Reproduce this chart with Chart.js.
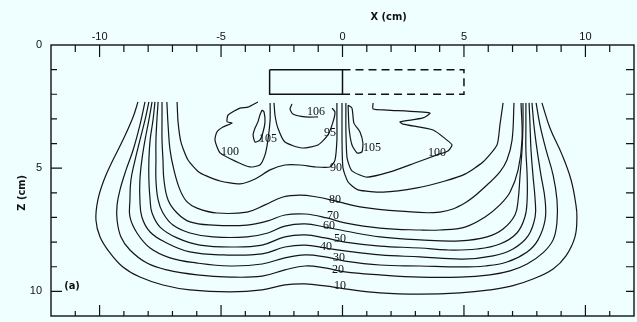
<!DOCTYPE html>
<html>
<head>
<meta charset="utf-8">
<script src="https://cdn.jsdelivr.net/npm/chart.js@4.4.1/dist/chart.umd.min.js"></script>
<style>
  html, body { margin: 0; padding: 0; background: #effefe; }
  #wrap { width: 637px; height: 322px; position: relative; }
</style>
</head>
<body>
<div id="wrap"><canvas id="isoChart"></canvas></div>
<script>
// isodose curves, points are [x (cm), z (cm)]
var iso10 = [[-8.42,2.31],[-8.62,2.92],[-9.04,3.86],[-9.45,4.67],[-9.82,5.48],[-10.07,6.29],[-10.15,7.10],[-9.98,7.79],[-9.57,8.44],[-9.04,9.01],[-8.34,9.42],[-7.39,9.74],[-6.28,9.94],[-4.63,10.02],[-3.31,9.94],[-2.37,9.74],[-1.54,9.70],[-0.72,9.78],[0.10,9.90],[1.54,10.06],[3.19,10.11],[4.84,10.06],[6.07,9.94],[6.98,9.78],[7.84,9.50],[8.67,9.09],[9.20,8.56],[9.57,7.79],[9.65,6.98],[9.61,6.49],[9.41,5.48],[9.04,4.46],[8.54,3.37],[8.21,2.35]];
var iso20 = [[-8.13,2.31],[-8.34,3.25],[-8.62,4.26],[-8.91,5.07],[-9.16,5.88],[-9.28,6.49],[-9.28,7.10],[-9.12,7.79],[-8.75,8.32],[-8.05,8.85],[-7.23,9.13],[-5.99,9.33],[-4.63,9.42],[-3.31,9.38],[-2.37,9.13],[-1.54,8.97],[-0.72,9.05],[0.10,9.21],[1.54,9.33],[3.19,9.42],[4.84,9.42],[6.07,9.33],[6.90,9.17],[7.60,8.89],[8.25,8.44],[8.67,7.91],[8.83,7.18],[8.83,6.29],[8.67,5.28],[8.38,4.26],[8.13,3.25],[7.97,2.35]];
var iso30 = [[-7.97,2.31],[-8.13,3.04],[-8.34,3.86],[-8.54,4.67],[-8.71,5.48],[-8.75,6.29],[-8.75,6.98],[-8.46,7.63],[-7.92,8.24],[-7.10,8.64],[-5.99,8.85],[-4.63,8.97],[-3.31,8.89],[-2.37,8.64],[-1.54,8.52],[-0.72,8.60],[0.10,8.77],[1.54,8.93],[3.19,8.97],[4.84,9.01],[5.87,8.97],[6.77,8.81],[7.60,8.40],[8.05,7.91],[8.34,7.10],[8.34,6.29],[8.17,5.28],[8.01,4.26],[7.88,3.25],[7.80,2.35]];
var iso40 = [[-7.84,2.31],[-7.97,3.04],[-8.13,3.86],[-8.26,4.67],[-8.34,5.48],[-8.34,6.29],[-8.26,6.98],[-7.92,7.59],[-7.23,8.04],[-6.28,8.40],[-4.92,8.52],[-3.31,8.48],[-2.37,8.20],[-1.54,8.12],[-0.72,8.24],[0.10,8.36],[1.54,8.52],[3.19,8.60],[4.96,8.69],[6.20,8.56],[7.02,8.28],[7.64,7.75],[7.93,6.98],[7.93,6.29],[7.84,5.28],[7.76,4.26],[7.72,3.25],[7.68,2.35]];
var iso50 = [[-7.72,2.31],[-7.80,3.04],[-7.92,3.86],[-7.97,4.67],[-7.97,5.48],[-7.92,6.29],[-7.84,6.82],[-7.51,7.39],[-6.81,7.83],[-5.87,8.12],[-4.51,8.20],[-3.31,8.12],[-2.37,7.79],[-1.54,7.71],[-0.72,7.83],[0.10,8.00],[1.54,8.16],[3.19,8.24],[4.30,8.32],[5.54,8.28],[6.48,8.08],[7.18,7.63],[7.51,6.98],[7.60,6.29],[7.60,5.28],[7.55,4.26],[7.55,3.25],[7.55,2.35]];
var iso60 = [[-7.59,2.31],[-7.64,3.04],[-7.68,3.86],[-7.68,4.67],[-7.68,5.48],[-7.59,6.29],[-7.39,6.82],[-6.98,7.31],[-6.28,7.63],[-5.33,7.79],[-3.93,7.79],[-3.07,7.63],[-2.37,7.35],[-1.54,7.26],[-0.72,7.39],[0.10,7.55],[1.54,7.79],[3.19,7.91],[4.84,7.95],[5.95,7.79],[6.61,7.47],[7.10,6.90],[7.23,6.29],[7.31,5.28],[7.39,4.26],[7.43,3.25],[7.43,2.35]];
var iso70 = [[-7.43,2.31],[-7.43,3.04],[-7.43,3.86],[-7.39,4.67],[-7.35,5.48],[-7.18,6.29],[-6.81,6.82],[-6.28,7.18],[-5.33,7.31],[-3.93,7.31],[-3.07,7.14],[-2.37,6.90],[-1.54,6.86],[-0.64,7.02],[0.10,7.22],[1.54,7.43],[3.19,7.51],[4.01,7.51],[5.04,7.39],[5.87,6.98],[6.48,6.49],[6.90,5.97],[7.23,5.07],[7.39,3.86],[7.35,2.35]];
var iso80 = [[-7.23,2.31],[-7.18,3.25],[-7.10,4.26],[-6.94,5.07],[-6.69,5.88],[-6.40,6.37],[-5.99,6.62],[-5.17,6.82],[-3.93,6.78],[-3.19,6.49],[-2.45,6.17],[-1.75,6.09],[-1.05,6.17],[-0.31,6.33],[0.72,6.57],[2.37,6.74],[4.01,6.78],[5.04,6.41],[5.95,5.68],[6.48,5.15],[6.77,4.67],[6.98,3.86],[7.06,2.35]];
var iso90L = [[-6.81,2.31],[-6.77,3.12],[-6.65,3.94],[-6.36,4.67],[-5.87,5.19],[-5.04,5.52],[-4.22,5.64],[-3.60,5.44],[-2.98,5.07],[-2.37,4.87],[-1.75,4.87],[-1.13,4.95],[-0.51,4.95],[-0.31,4.67],[-0.23,3.86],[-0.23,3.04],[-0.23,2.35]];
var iso90R = [[-0.02,2.35],[-0.02,3.86],[0.02,4.99],[0.23,5.56],[0.64,5.88],[1.67,5.97],[3.07,5.80],[4.22,5.52],[5.04,5.24],[5.78,4.75],[6.36,4.06],[6.48,3.25],[6.61,2.35]];
var iso95 = [[-2.82,2.35],[-2.78,2.84],[-2.66,3.37],[-2.37,3.94],[-1.67,4.18],[-1.01,4.06],[-0.60,3.65],[-0.39,3.12],[-0.31,2.72],[-0.43,2.56]];
var iso100L = [[-3.48,2.31],[-3.89,2.52],[-4.22,2.56],[-4.71,2.84],[-4.75,3.12],[-4.55,3.17],[-4.92,3.33],[-5.17,3.53],[-5.25,3.86],[-5.04,4.38],[-4.34,4.75],[-3.81,4.95],[-3.40,4.87],[-3.19,4.46],[-3.07,3.86],[-2.98,3.04],[-2.98,2.35]];
var iso100R = [[1.26,2.35],[1.26,2.60],[1.83,2.64],[3.60,2.76],[3.31,2.96],[2.37,3.12],[2.49,3.21],[3.73,3.45],[4.30,3.86],[4.51,4.06],[4.34,4.30],[3.89,4.46],[2.98,4.79],[1.96,5.15],[1.01,5.36],[0.39,5.11],[0.19,4.59],[0.14,3.45],[0.14,2.35]];
var iso105L = [[-3.31,2.64],[-3.40,2.84],[-3.48,3.12],[-3.60,3.37],[-3.68,3.65],[-3.60,3.94],[-3.40,3.86],[-3.27,3.53],[-3.19,3.12],[-3.23,2.72],[-3.31,2.64]];
var iso105R = [[0.23,2.44],[0.27,3.37],[0.39,4.06],[0.60,4.38],[0.80,4.34],[0.84,3.98],[0.72,3.53],[0.47,3.17],[0.39,2.56],[0.23,2.44]];
var iso106 = [[-2.08,2.39],[-2.16,2.60],[-2.04,2.80],[-1.54,2.92],[-1.01,2.92]];

var curves = [iso10, iso20, iso30, iso40, iso50, iso60, iso70, iso80, iso90L, iso90R, iso95, iso100L, iso100R, iso105L, iso105R, iso106];
var curveLevels = [10, 20, 30, 40, 50, 60, 70, 80, 90, 90, 95, 100, 100, 105, 105, 106];
// where each level number is written (null = unlabelled piece)
var labelSpots = [[-0.10,9.78],[-0.19,9.13],[-0.14,8.64],[-0.68,8.20],[-0.10,7.87],[-0.56,7.35],[-0.39,6.94],[-0.31,6.29],[-0.27,4.99],null,[-0.51,3.57],[-4.63,4.34],[3.89,4.38],[-3.07,3.82],[1.21,4.18],[-1.09,2.72]];

// block outline and the open (dashed) region beside it
var blockSolid = [[-3,1],[0,1],[0,2],[-3,2],[-3,1]];
var blockDashed = [[0,1],[5,1],[5,2],[0,2]];

var xTickLabels = [-10, -5, 0, 5, 10];
var zTickLabels = [0, 5, 10];

function toXY(pts) {
    return pts.map(function (p) { return { x: p[0], y: p[1] }; });
}

var datasets = curves.map(function (pts, i) {
    return {
        label: curveLevels[i] + '%',
        data: toXY(pts),
        showLine: true,
        borderColor: '#151515',
        borderWidth: 1.2,
        pointRadius: 0,
        tension: curveLevels[i] <= 80 ? 0.4 : 0.2
    };
});
datasets.push({
    label: 'block', data: toXY(blockSolid), showLine: true,
    borderColor: '#111', borderWidth: 1.5, pointRadius: 0, tension: 0
});
datasets.push({
    label: 'open', data: toXY(blockDashed), showLine: true,
    borderColor: '#111', borderWidth: 1.5, borderDash: [8, 5], pointRadius: 0, tension: 0
});

// frame, inward ticks and all the text
var framePlugin = {
    id: 'frame',
    beforeDraw: function (chart) {
        var c = chart.ctx;
        c.save();
        c.fillStyle = '#effefe';
        c.fillRect(0, 0, chart.width, chart.height);
        c.restore();
    },
    afterDraw: function (chart) {
        var c = chart.ctx, a = chart.chartArea;
        var xs = chart.scales.x, ys = chart.scales.y;
        c.save();
        c.strokeStyle = '#111';
        c.lineWidth = 1.4;
        c.strokeRect(a.left, a.top, a.right - a.left, a.bottom - a.top);

        c.lineWidth = 1.2;
        c.beginPath();
        for (var v = -11; v <= 11; v++) {
            var px = xs.getPixelForValue(v);
            var major = v % 5 === 0;
            c.moveTo(px, a.top); c.lineTo(px, a.top + (major ? 12 : 7));
            c.moveTo(px, a.bottom); c.lineTo(px, a.bottom - (major ? 11 : 5));
        }
        for (var w = 1; w <= 10; w++) {
            var py = ys.getPixelForValue(w);
            var big = w % 5 === 0;
            c.moveTo(a.left, py); c.lineTo(a.left + (big ? 11 : 6), py);
            c.moveTo(a.right, py); c.lineTo(a.right - 8, py);
        }
        c.stroke();

        c.fillStyle = '#111';
        c.font = "11px 'Liberation Sans', Arial, sans-serif";
        c.textAlign = 'center';
        c.textBaseline = 'middle';
        xTickLabels.forEach(function (t) {
            c.fillText(String(t), xs.getPixelForValue(t), a.top - 8);
        });
        c.textAlign = 'right';
        zTickLabels.forEach(function (t) {
            c.fillText(String(t), a.left - 9, ys.getPixelForValue(t));
        });

        c.font = "bold 11px 'DejaVu Sans Condensed', 'Liberation Sans Narrow', sans-serif";
        c.textAlign = 'center';
        c.fillText('X (cm)', xs.getPixelForValue(1.9), a.top - 28);
        c.fillText('(a)', a.left + 21, ys.getPixelForValue(9.8));
        c.save();
        c.translate(22, ys.getPixelForValue(6.0));
        c.rotate(-Math.PI / 2);
        c.fillText('Z (cm)', 0, 0);
        c.restore();

        c.font = "12px 'Liberation Serif', serif";
        labelSpots.forEach(function (s, i) {
            if (!s) return;
            c.fillText(String(curveLevels[i]), xs.getPixelForValue(s[0]), ys.getPixelForValue(s[1]));
        });
        c.restore();
    }
};

var ctx = document.getElementById('isoChart').getContext('2d');
var isoChart = new Chart(ctx, {
    type: 'scatter',
    data: { datasets: datasets },
    options: {
        responsive: true,
        maintainAspectRatio: false,
        animation: false,
        devicePixelRatio: 1,
        layout: { padding: { left: 51, right: 3, top: 45, bottom: 6 } },
        scales: {
            x: { type: 'linear', min: -12, max: 12, display: false },
            y: { type: 'linear', min: 0, max: 11, reverse: true, display: false }
        },
        plugins: {
            legend: { display: false },
            tooltip: { enabled: false }
        }
    },
    plugins: [framePlugin]
});
</script>
</body>
</html>
